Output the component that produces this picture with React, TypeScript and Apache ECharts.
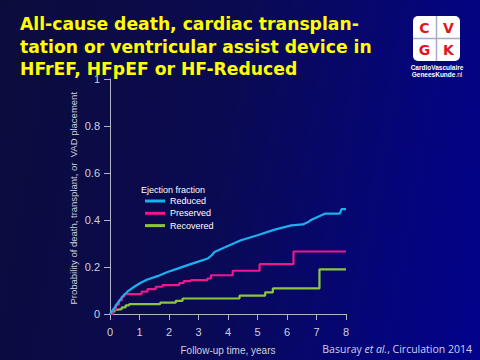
import React, { useEffect, useRef } from "react";
import * as echarts from "echarts";

const titleLines = [
  "All-cause death, cardiac transplan-",
  "tation or ventricular assist device in",
  "HFrEF, HFpEF or HF-Reduced",
];
const seriesNames = ["Reduced", "Preserved", "Recovered"];
const yAxisTitle = "Probability of death, transplant, or  VAD placement";
const xAxisTitle = "Follow-up time, years";

const reducedT = [0, 0.07, 0.14, 0.25, 0.42, 0.59, 0.82, 1.04, 1.27, 1.61, 1.95, 2.29, 2.63, 2.97, 3.31, 3.45, 3.54, 3.88, 4.44, 5.0, 5.58, 6.15, 6.54, 6.7, 6.83, 7.28, 7.79, 7.85, 8.0];
const reducedV = [0, 0.012, 0.024, 0.045, 0.073, 0.095, 0.116, 0.133, 0.147, 0.161, 0.179, 0.193, 0.208, 0.222, 0.236, 0.25, 0.264, 0.283, 0.314, 0.335, 0.359, 0.377, 0.381, 0.39, 0.401, 0.427, 0.427, 0.446, 0.446];

const preservedT = [0, 0.1, 0.2, 0.3, 0.4, 0.48, 1.07, 1.27, 1.55, 1.78, 2.35, 2.5, 2.74, 3.3, 3.42, 4.16, 5.07, 6.22, 8.0];
const preservedV = [0, 0.02, 0.04, 0.058, 0.074, 0.085, 0.095, 0.106, 0.116, 0.123, 0.132, 0.14, 0.144, 0.151, 0.165, 0.184, 0.212, 0.266, 0.266];

const recoveredT = [0, 0.08, 0.15, 0.25, 0.4, 0.53, 0.65, 1.7, 2.23, 2.46, 4.39, 5.26, 5.52, 7.1, 8.0];
const recoveredV = [0, 0.01, 0.018, 0.021, 0.028, 0.037, 0.042, 0.048, 0.056, 0.066, 0.078, 0.092, 0.109, 0.19, 0.19];

const colors = ["#19b2f0", "#f0168c", "#8cc63f"];

const zip = (t: number[], v: number[]) => t.map((x, i) => [x, v[i]]);

export default function App() {
  const ref = useRef<HTMLDivElement>(null);
  useEffect(() => {
    if (!ref.current) return;
    const chart = echarts.init(ref.current, null, { renderer: "svg" });
    const axisColor = "#b4b4c8";
    const labelColor = "#d0d0dc";
    chart.setOption({
      animation: false,
      backgroundColor: "transparent",
      grid: { left: 110, right: 134, top: 79, bottom: 42.7, containLabel: false },
      xAxis: {
        type: "value",
        min: 0,
        max: 8,
        interval: 1,
        name: xAxisTitle,
        nameLocation: "middle",
        nameGap: 31,
        nameTextStyle: { color: labelColor, fontSize: 10, fontFamily: "Liberation Sans" },
        axisLine: { show: true, lineStyle: { color: axisColor, width: 1 } },
        axisTick: { show: true, length: 6, lineStyle: { color: axisColor } },
        axisLabel: { color: labelColor, fontSize: 11, fontFamily: "Liberation Sans", margin: 12.5 },
        splitLine: { show: false },
      },
      yAxis: {
        type: "value",
        min: 0,
        max: 1,
        interval: 0.2,
        axisLine: { show: true, lineStyle: { color: axisColor, width: 1 } },
        axisTick: { show: true, length: 6, lineStyle: { color: axisColor } },
        axisLabel: { color: labelColor, fontSize: 11, fontFamily: "Liberation Sans", margin: 10 },
        splitLine: { show: false },
      },
      legend: {
        orient: "vertical",
        left: 145,
        top: 195.5,
        padding: 0,
        icon: "rect",
        itemWidth: 20,
        itemHeight: 3,
        itemGap: 1.3,
        data: seriesNames,
        textStyle: { color: "#ffffff", fontSize: 9, fontFamily: "Liberation Sans", lineHeight: 11 },
      },
      series: [
        {
          name: seriesNames[0],
          type: "line",
          data: zip(reducedT, reducedV),
          showSymbol: false,
          lineStyle: { color: colors[0], width: 2.2 },
          itemStyle: { color: colors[0] },
          z: 3,
        },
        {
          name: seriesNames[1],
          type: "line",
          step: "end",
          data: zip(preservedT, preservedV),
          showSymbol: false,
          lineStyle: { color: colors[1], width: 2.2 },
          itemStyle: { color: colors[1] },
          z: 2,
        },
        {
          name: seriesNames[2],
          type: "line",
          step: "end",
          data: zip(recoveredT, recoveredV),
          showSymbol: false,
          lineStyle: { color: colors[2], width: 2.2 },
          itemStyle: { color: colors[2] },
          z: 1,
        },
      ],
      graphic: [
        {
          type: "text",
          left: 20,
          top: 12.5,
          style: {
            text: titleLines.join("\n"),
            fill: "#ffff00",
            font: "bold 17.2px 'DejaVu Sans'",
            lineHeight: 22.7,
          },
        },
        {
          type: "text",
          x: 73,
          y: 198.3,
          rotation: Math.PI / 2,
          style: {
            text: yAxisTitle,
            fill: labelColor,
            font: "9.5px 'Liberation Sans'",
            align: "center",
            verticalAlign: "middle",
          },
        },
        {
          type: "text",
          left: 141,
          top: 185,
          style: { text: "Ejection fraction", fill: "#ffffff", font: "9px 'Liberation Sans'" },
        },
        // logo
        { type: "rect", shape: { x: 413, y: 16, width: 47, height: 45, r: 5 }, style: { fill: "#ffffff" } },
        { type: "line", shape: { x1: 436.5, y1: 16, x2: 436.5, y2: 61 }, style: { stroke: "#a8a8c8", lineWidth: 1.5 } },
        { type: "line", shape: { x1: 413, y1: 38.5, x2: 460, y2: 38.5 }, style: { stroke: "#a8a8c8", lineWidth: 1.5 } },
        { type: "text", x: 424.5, y: 27.5, style: { text: "C", fill: "#e0141e", font: "bold 14px 'DejaVu Sans'", align: "center", verticalAlign: "middle" } },
        { type: "text", x: 448.5, y: 27.5, style: { text: "V", fill: "#e0141e", font: "bold 14px 'DejaVu Sans'", align: "center", verticalAlign: "middle" } },
        { type: "text", x: 424.5, y: 50, style: { text: "G", fill: "#e0141e", font: "bold 14px 'DejaVu Sans'", align: "center", verticalAlign: "middle" } },
        { type: "text", x: 448.5, y: 50, style: { text: "K", fill: "#e0141e", font: "bold 14px 'DejaVu Sans'", align: "center", verticalAlign: "middle" } },
        { type: "text", x: 437, y: 67, style: { text: "CardioVasculaire", fill: "#ffffff", font: "bold 6.5px 'Liberation Sans'", align: "center", verticalAlign: "middle" } },
        {
          type: "text",
          x: 437,
          y: 74.5,
          style: {
            text: "{b|GeneesKunde}{n|.nl}",
            align: "center",
            verticalAlign: "middle",
            rich: {
              b: { fill: "#ffffff", font: "bold 6.5px 'Liberation Sans'" },
              n: { fill: "#ffffff", font: "6.5px 'Liberation Sans'" },
            },
          },
        },
        {
          type: "text",
          x: 472,
          y: 349,
          style: {
            text: "{a|Basuray }{i|et al.}{a|, Circulation 2014}",
            align: "right",
            verticalAlign: "middle",
            rich: {
              a: { fill: "#d0d0e8", font: "10.5px 'Open Sans'" },
              i: { fill: "#d0d0e8", font: "italic 10.5px 'Open Sans'" },
            },
          },
        },
      ],
    });
    return () => chart.dispose();
  }, []);
  return (
    <div
      style={{
        position: "absolute",
        left: 0,
        top: 0,
        width: 480,
        height: 360,
        background: "linear-gradient(100deg, #0c0c3c 0%, #0a0a52 45%, #05057a 80%, #02028c 100%)",
      }}
    >
      <div ref={ref} style={{ width: 480, height: 360 }} />
    </div>
  );
}
